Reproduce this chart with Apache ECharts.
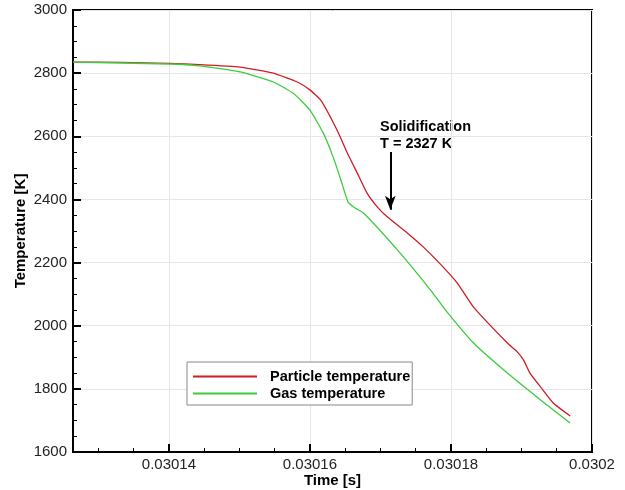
<!DOCTYPE html>
<html>
<head>
<meta charset="utf-8">
<script src="https://cdn.jsdelivr.net/npm/echarts@6/dist/echarts.min.js"></script>
<style>html,body{margin:0;padding:0;background:#fff}#c{width:625px;height:490px}</style>
</head>
<body>
<div id="c"></div>
<script>
// Time [s]
const particleTime = [0.0301264,0.0301331,0.0301400,0.0301444,0.0301501,0.0301548,0.0301582,0.0301600,0.0301615,0.0301629,0.0301643,0.0301653,0.0301667,0.0301681,0.0301696,0.0301710,0.0301738,0.0301761,0.0301785,0.0301809,0.0301832,0.0301880,0.0301894,0.0301903,0.0301912,0.0301927,0.0301945,0.0301969];
const particleTemp = [2835,2834,2831,2827,2819,2800,2772,2747,2715,2661,2598,2547,2484,2420,2375,2344,2294,2249,2195,2135,2059,1945,1917,1891,1850,1806,1755,1714];
const gasTime = [0.0301264,0.0301400,0.0301444,0.0301501,0.0301548,0.0301576,0.0301600,0.0301619,0.0301633,0.0301643,0.0301654,0.0301664,0.0301676,0.0301724,0.0301771,0.0301792,0.0301832,0.0301880,0.0301927,0.0301969];
const gasTemp = [2835,2829,2823,2804,2772,2737,2683,2610,2534,2468,2392,2373,2357,2240,2113,2050,1945,1850,1765,1692];
const seriesNames = ['Particle temperature','Gas temperature'];
const annotationLines = ['Solidification','T = 2327 K'];
const arrowTime = 0.0301714;
const arrowFrom = 2550, arrowTo = 2367;

const zip = (a,b) => a.map((v,i)=>[v,b[i]]);
const font = 'Liberation Sans, Arial, sans-serif';
const chart = echarts.init(document.getElementById('c'));
chart.setOption({
  animation:false,
  grid:{left:73,right:33,top:10,bottom:38,outerBoundsMode:'none',containLabel:false,show:true,borderColor:'#000',borderWidth:2},
  xAxis:{type:'value',min:0.0301264,max:0.0302,splitNumber:4,
    name:'Time [s]',nameLocation:'middle',nameGap:21,nameMoveOverlap:false,
    nameTextStyle:{fontFamily:font,fontSize:15,fontWeight:'bold',color:'#000',verticalAlign:'top',lineHeight:15},
    axisLine:{lineStyle:{color:'#000',width:2}},
    axisTick:{inside:true,length:8,lineStyle:{color:'#000',width:2}},
    minorTick:{show:true,splitNumber:4,length:4,lineStyle:{color:'#000',width:1}},
    axisLabel:{showMinLabel:false,fontFamily:font,fontSize:15,color:'#222',margin:5,
      formatter:v=>String(+v.toFixed(6))},
    splitLine:{show:true,lineStyle:{color:'#e6e6e6',width:1}}},
  yAxis:{type:'value',min:1600,max:3000,interval:200,
    name:'Temperature [K]',nameLocation:'middle',nameGap:45,nameMoveOverlap:false,
    nameTextStyle:{fontFamily:font,fontSize:15,fontWeight:'bold',color:'#000'},
    axisLine:{show:true,lineStyle:{color:'#000',width:2}},
    axisTick:{show:true,inside:true,length:8,lineStyle:{color:'#000',width:2}},
    minorTick:{show:true,splitNumber:4,length:4,lineStyle:{color:'#000',width:1}},
    axisLabel:{fontFamily:font,fontSize:15,color:'#222',margin:6,formatter:v=>String(v)},
    splitLine:{show:true,lineStyle:{color:'#e6e6e6',width:1}}},
  legend:{orient:'vertical',left:187,top:362,width:225,
    backgroundColor:'#fff',borderColor:'#888',borderWidth:1,padding:[7,2,4,6],itemGap:2,
    icon:'rect',itemWidth:64,itemHeight:2,
    textStyle:{fontFamily:font,fontSize:14.5,fontWeight:'bold',color:'#000',padding:[0,0,0,8]},
    data:seriesNames},
  series:[
    {name:seriesNames[0],type:'line',showSymbol:false,smooth:0.15,data:zip(particleTime,particleTemp),
     lineStyle:{color:'#d01c24',width:1.3},itemStyle:{color:'#d01c24'},
     markLine:{silent:true,symbol:['none','arrow'],symbolSize:[8,14],label:{show:false},
       lineStyle:{color:'#000',width:2,type:'solid'},
       data:[[{coord:[arrowTime,arrowFrom]},{coord:[arrowTime,arrowTo]}]]}},
    {name:seriesNames[1],type:'line',showSymbol:false,smooth:0.15,data:zip(gasTime,gasTemp),
     lineStyle:{color:'#3ccc3c',width:1.3},itemStyle:{color:'#3ccc3c'}}
  ],
  graphic:[{type:'text',left:380,top:118,style:{text:annotationLines.join('\n'),
    font:'bold 14.5px '+font,fill:'#000',lineHeight:17}}]
});
</script>
</body>
</html>
